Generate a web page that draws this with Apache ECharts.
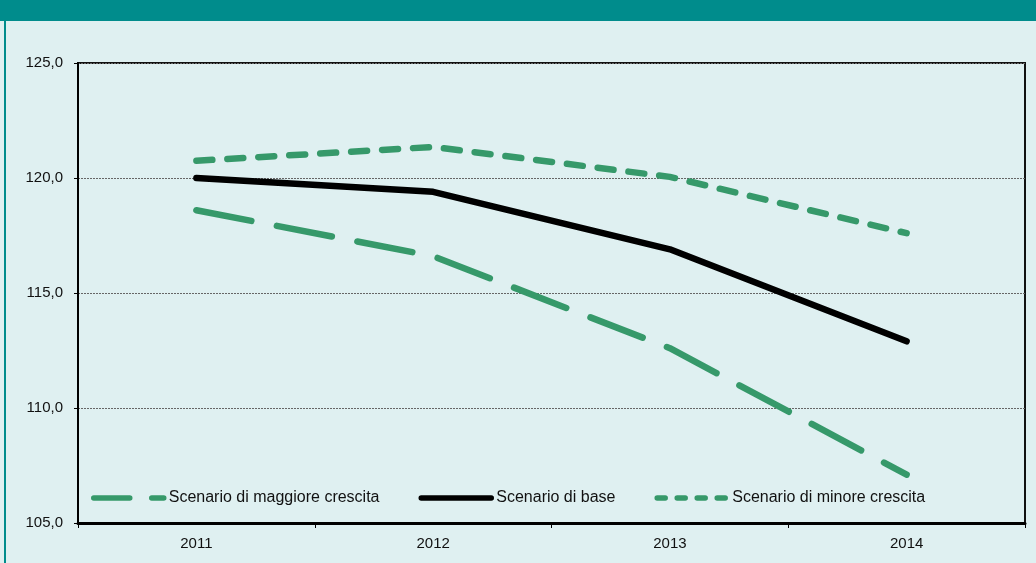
<!DOCTYPE html>
<html>
<head>
<meta charset="utf-8">
<script src="https://cdn.jsdelivr.net/npm/echarts@6/dist/echarts.min.js"></script>
<style>
  html, body { margin: 0; padding: 0; background: #dff0f1; }
  #header { position: absolute; left: 0; top: 0; width: 1036px; height: 21px; background: #008c8c; }
  #leftbar { position: absolute; left: 4px; top: 21px; width: 2px; height: 542px; background: #008c8c; }
  #chart { position: absolute; left: 0; top: 0; width: 1036px; height: 563px; }
</style>
</head>
<body>
<div id="header"></div>
<div id="leftbar"></div>
<div id="chart"></div>
<script>
// anni
const years = ['2011', '2012', '2013', '2014']
// scenari
const maggiore = [118.6, 116.6, 112.6, 107.1]
const base = [120.0, 119.4, 116.9, 112.9]
const minore = [120.75, 121.35, 120.05, 117.6]
const names = ['Scenario di maggiore crescita', 'Scenario di base', 'Scenario di minore crescita']

const green = '#36996a'
const chart = echarts.init(document.getElementById('chart'))

const option = {
  animation: false,
  textStyle: { fontFamily: 'Liberation Sans, Arial, sans-serif' },
  grid: {
    left: 78, right: 11, top: 63, bottom: 40,
    show: true, borderColor: '#111', borderWidth: 2, backgroundColor: 'transparent'
  },
  legend: {
    left: 86, top: 485,
    itemWidth: 70, itemHeight: 14, itemGap: 39,
    textStyle: { fontSize: 16, color: '#111' },
    itemStyle: { color: 'transparent', borderWidth: 0, opacity: 0 },
    lineStyle: { width: 5.5, cap: 'round' },
    data: [
      { name: names[0], lineStyle: { type: [36, 22] } },
      { name: names[1] },
      { name: names[2], lineStyle: { type: [8, 12] } }
    ]
  },
  xAxis: {
    type: 'category',
    data: years,
    boundaryGap: true,
    axisLine: { lineStyle: { color: '#000', width: 3 } },
    axisTick: { show: true, length: 5, lineStyle: { color: '#000', width: 1 } },
    axisLabel: { fontSize: 15, color: '#111', margin: 13 },
    splitLine: { show: false }
  },
  yAxis: {
    type: 'value',
    min: 105, max: 125, interval: 5,
    axisLine: { show: true, lineStyle: { color: '#000', width: 2 } },
    axisTick: { show: true, length: 4, lineStyle: { color: '#000', width: 1 } },
    axisLabel: {
      fontSize: 15, color: '#111', margin: 15,
      formatter: v => v.toFixed(1).replace('.', ',')
    },
    splitLine: { lineStyle: { color: '#666', width: 1, type: [2, 1] } }
  },
  series: [
    {
      name: names[0], type: 'line', data: maggiore, symbol: 'none',
      itemStyle: { color: green },
      lineStyle: { color: green, width: 6.5, type: [56, 26], cap: 'round', join: 'round' }
    },
    {
      name: names[1], type: 'line', data: base, symbol: 'none',
      itemStyle: { color: '#000' },
      lineStyle: { color: '#000', width: 6.5, cap: 'round', join: 'round' }
    },
    {
      name: names[2], type: 'line', data: minore, symbol: 'none',
      itemStyle: { color: green },
      lineStyle: { color: green, width: 6.5, type: [16, 15], cap: 'round', join: 'round' }
    }
  ]
}
chart.setOption(option)
</script>
</body>
</html>
